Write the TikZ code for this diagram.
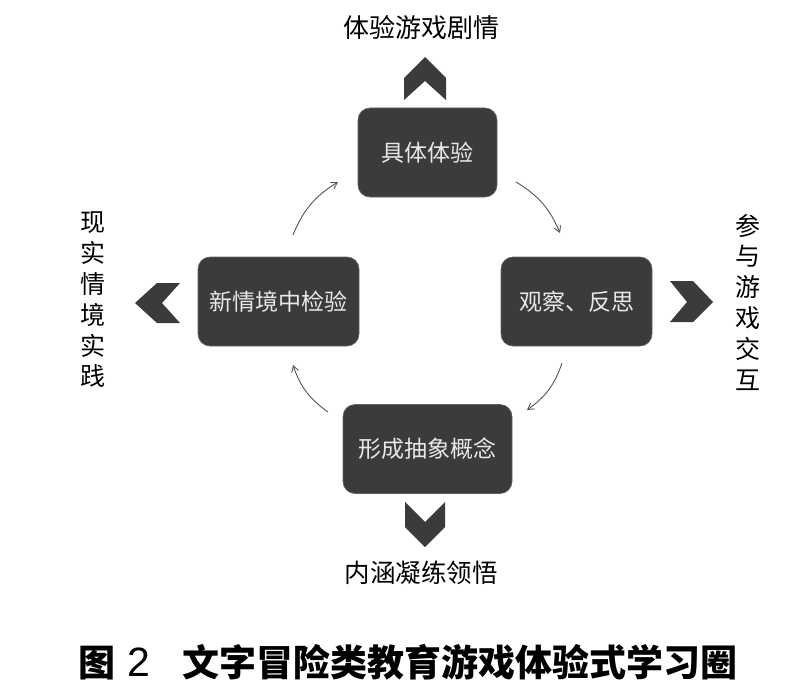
\documentclass[tikz,border=0pt]{standalone}
\usepackage{fontspec}
\newfontfamily\cjk{Noto Sans CJK SC}
\newfontfamily\latinsans{Liberation Sans}
\usetikzlibrary{arrows.meta}
\definecolor{boxgray}{HTML}{3B3B3B}
\definecolor{boxtext}{HTML}{E8E8E8}
\definecolor{arrgray}{HTML}{555555}
\tikzset{
  stagebox/.style={fill=boxgray, draw=boxgray!80!white, line width=0.6pt, rounded corners=12pt, text=boxtext,
    font=\cjk\fontsize{23}{26}\selectfont, minimum height=89pt, inner sep=0pt},
  chevron/.style={fill=boxgray, draw=none},
  sidelabel/.style={font=\cjk\fontsize{26}{30}\selectfont, text=black, inner sep=0pt},
  vlabel/.style={font=\cjk\fontsize{25}{30.8}\selectfont, text=black, align=center, inner sep=0pt},
  cyclearrow/.style={draw=arrgray, line width=0.9pt, -{Straight Barb[length=6pt,width=7pt]}, bend left=18},
}
\begin{document}
\begin{tikzpicture}[x=1pt,y=-1pt]
\useasboundingbox (0,0) rectangle (810,690);
% boxes
\node[stagebox, minimum width=139pt] (top) at (427.5,152.5) {具体体验};
\node[stagebox, minimum width=161pt] (left) at (278.5,301.5) {新情境中检验};
\node[stagebox, minimum width=151pt] (right) at (576.5,301.5) {观察、反思};
\node[stagebox, minimum width=169pt] (bottom) at (427.5,449) {形成抽象概念};
% chevrons
\fill[chevron] (425,57) -- (446,78) -- (446,100) -- (425,81) -- (404,100) -- (404,78) -- cycle;
\fill[chevron] (405,502) -- (425,522) -- (445,502) -- (445,527) -- (425,547) -- (405,527) -- cycle;
\fill[chevron] (135,303) -- (157,283) -- (180,283) -- (162,303) -- (180,323) -- (157,323) -- cycle;
\fill[chevron] (713,302) -- (693,281) -- (670,281) -- (687,302) -- (670,322) -- (693,322) -- cycle;
% outer labels
\node[sidelabel] (toplab) at (421,28) {体验游戏剧情};
\node[sidelabel, font=\cjk\fontsize{25.5}{30}\selectfont] (botlab) at (421,573) {内涵凝练领悟};
\node[vlabel] (leftlab) at (93,300) {现\\实\\情\\境\\实\\践};
\node[vlabel] (rightlab) at (748,302) {参\\与\\游\\戏\\交\\互};
% cycle arrows
\coordinate (a1s) at (516,182); \coordinate (a1e) at (560,233);
\coordinate (a2s) at (562,363); \coordinate (a2e) at (527,410);
\coordinate (a3s) at (328,412); \coordinate (a3e) at (293,365);
\coordinate (a4s) at (293,235); \coordinate (a4e) at (338,182);
\draw[cyclearrow] (a1s) to (a1e);
\draw[cyclearrow] (a2s) to (a2e);
\draw[cyclearrow] (a3s) to (a3e);
\draw[cyclearrow] (a4s) to (a4e);
% caption
\node[font=\cjk\bfseries\fontsize{37}{40}\selectfont, inner sep=0pt, anchor=west] (caption) at (78,662) {图\hspace{12pt}{\latinsans\mdseries\fontsize{41}{40}\selectfont 2}\hspace{32pt}文字冒险类教育游戏体验式学习圈};
\end{tikzpicture}
\end{document}
